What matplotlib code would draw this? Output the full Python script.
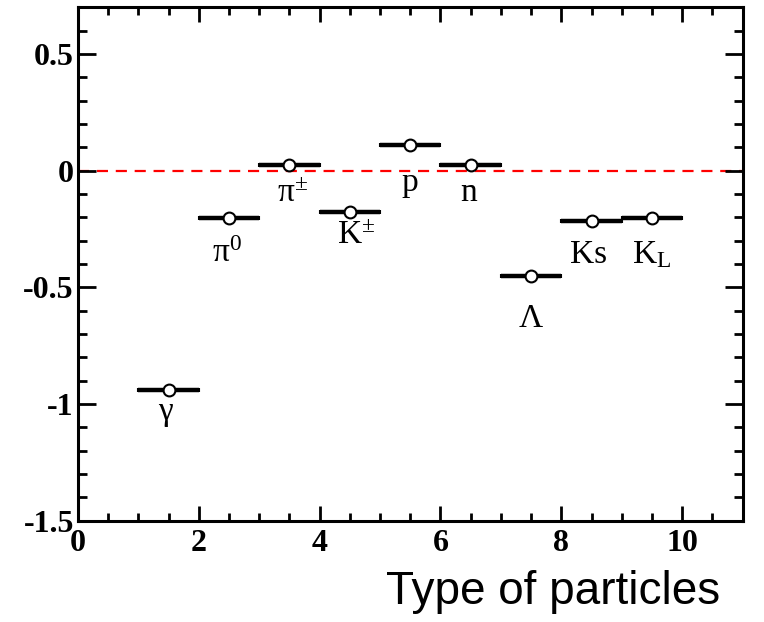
import matplotlib
matplotlib.use('Agg')
import matplotlib.pyplot as plt
from matplotlib.ticker import MultipleLocator

plt.rcParams['mathtext.fontset'] = 'custom'
plt.rcParams['mathtext.rm'] = 'Liberation Serif'
plt.rcParams['mathtext.it'] = 'Liberation Serif:italic'

## Data
x_center = [1.5, 2.5, 3.5, 4.5, 5.5, 6.5, 7.5, 8.5, 9.5]
x_halfwidth = [0.5] * 9
values = [-0.94, -0.203, 0.026, -0.175, 0.11, 0.026, -0.45, -0.214, -0.203]
labels = [r'$\mathrm{\gamma}$', r'$\mathrm{\pi^0}$', r'$\mathrm{\pi^{\pm}}$',
          r'$\mathrm{K^{\pm}}$', 'p', 'n', r'$\mathrm{\Lambda}$', 'Ks',
          r'$\mathrm{K_L}$']
label_x = [1.45, 2.47, 3.55, 4.6, 5.49, 6.46, 7.49, 8.45, 9.5]
label_y = [-1.04, -0.355, -0.10, -0.28, -0.05, -0.095, -0.635, -0.36, -0.36]

fig = plt.figure(figsize=(7.64, 6.22), dpi=100)
ax = fig.add_axes([0.102, 0.163, 0.870, 0.825])

ax.axhline(0, color='red', lw=1.6, ls=(0, (5, 3.5)), zorder=1)
ax.errorbar(x_center, values, xerr=x_halfwidth, fmt='o', color='black',
            mfc='white', mec='black', ms=8.5, mew=1.5, elinewidth=3.2,
            capsize=1.5, capthick=3.5, zorder=3)

for lx, ly, txt in zip(label_x, label_y, labels):
    ax.text(lx, ly, txt, ha='center', va='center', fontsize=24,
            family='Liberation Serif')

ax.set_xlim(0, 11)
ax.set_ylim(-1.5, 0.7)
ax.xaxis.set_major_locator(MultipleLocator(2))
ax.xaxis.set_minor_locator(MultipleLocator(0.5))
ax.yaxis.set_major_locator(MultipleLocator(0.5))
ax.yaxis.set_minor_locator(MultipleLocator(0.1))
ax.set_yticks([-1.5, -1, -0.5, 0, 0.5])
ax.set_yticklabels(['-1.5', '-1', '-0.5', '0', '0.5'])

ax.tick_params(which='both', direction='in', top=True, right=True, width=2)
ax.tick_params(axis='x', which='major', length=11, pad=6)
ax.tick_params(axis='x', which='minor', length=5.5)
ax.tick_params(axis='y', which='major', length=13, pad=3)
ax.tick_params(axis='y', which='minor', length=6.5)
for lab in ax.get_xticklabels() + ax.get_yticklabels():
    lab.set_family('Liberation Serif')
    lab.set_fontweight('bold')
    lab.set_fontsize(23)
for sp in ax.spines.values():
    sp.set_linewidth(2.2)

fig.text(0.942, 0.029, 'Type of particles', ha='right', va='baseline',
         fontsize=33, family='Liberation Sans')

fig.savefig('out.png', dpi=100)
